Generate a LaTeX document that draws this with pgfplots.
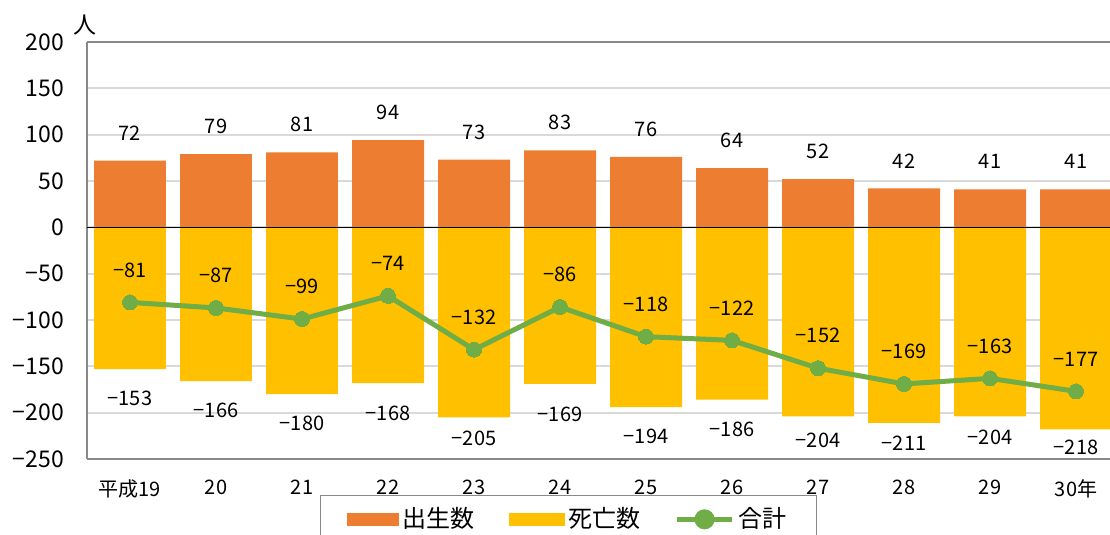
\documentclass[border=0pt]{standalone}
\usepackage{fontspec}
\setmainfont{Noto Sans CJK JP}
\usepackage{pgfplots}
\pgfplotsset{compat=1.18}
\usepackage{pgfplotstable}
\definecolor{cb}{HTML}{ED7D31}
\definecolor{cd}{HTML}{FFC000}
\definecolor{ct}{HTML}{70AD47}
\definecolor{gridc}{HTML}{D9D9D9}
\definecolor{axc}{HTML}{898989}

\pgfplotstableread{
x b d t dl tl dy
0 72 -153 -81 −153 −81 -184.2
1 79 -166 -87 −166 −87 -197.2
2 81 -180 -99 −180 −99 -211.2
3 94 -168 -74 −168 −74 -200.3
4 73 -205 -132 −205 −132 -227.4
5 83 -169 -86 −169 −86 -201.4
6 76 -194 -118 −194 −118 -225.2
7 64 -186 -122 −186 −122 -217.7
8 52 -204 -152 −204 −152 -229.6
9 42 -211 -169 −211 −169 -232.8
10 41 -204 -163 −204 −163 -226.3
11 41 -218 -177 −218 −177 -237.1
}\datatable

\begin{document}
\begin{tikzpicture}
\useasboundingbox (-43.5pt,-38pt) rectangle (511.5pt,229.5pt);
\clip (-43.5pt,-38pt) rectangle (511.5pt,229.5pt);
\begin{axis}[
  name=ax,
  at={(0,0)}, anchor=south west,
  scale only axis, width=511.5pt, height=208.5pt,
  xmin=-0.5, xmax=11.395, ymin=-250, ymax=200,
  axis x line*=box, axis y line*=left,
  axis line style={axc, line width=1pt},
  ymajorgrids, grid style={gridc, line width=0.9pt},
  major tick length=0pt,
  /pgf/number format/assume math mode=true,
  xtick={0,...,11},
  xticklabels={平成19,20,21,22,23,24,25,26,27,28,29,30年},
  ytick={-250,-200,...,200},
  yticklabels={−250,−200,−150,−100,−50,0,50,100,150,200},
  xticklabel style={font=\fontsize{10}{12}\selectfont, yshift=-7pt},
  yticklabel style={font=\fontsize{11.5}{13}\selectfont, xshift=-8pt},
  legend columns=3,
  legend style={at={(0.4707,-0.0863)}, anchor=north, draw=axc, line width=0.75pt,
    font=\fontsize{12}{14}\selectfont, inner xsep=13pt, inner ysep=4pt,
    /tikz/every even column/.append style={column sep=15pt}},
  legend cell align=left,
]
\addplot[ybar, bar width=0.837, bar shift=0pt, fill=cb, draw=none,
  legend image code/.code={\fill[cb] (0pt,-3.25pt) rectangle (26pt,3.25pt);},
  nodes near coords,
  every node near coord/.append style={anchor=south, inner sep=0pt, yshift=10pt,
    font=\fontsize{10}{12}\selectfont, text=black}]
  table[x=x, y=b] {\datatable};
\addlegendentry{出生数}
\addplot[ybar, bar width=0.837, bar shift=0pt, fill=cd, draw=none,
  legend image code/.code={\fill[cd] (0pt,-3.25pt) rectangle (28pt,3.25pt);}]
  table[x=x, y=d] {\datatable};
\addlegendentry{死亡数}
\addplot[draw=none, mark=none, forget plot, clip=false,
  point meta=explicit symbolic, nodes near coords,
  every node near coord/.append style={anchor=center, inner sep=0pt,
    font=\fontsize{10}{12}\selectfont, text=black}]
  table[x=x, y=dy, meta=dl] {\datatable};
\addplot[black, line width=0.75pt, forget plot] coordinates {(-0.5,0) (11.5,0)};
\addplot[ct, line width=2.5pt, mark=*, mark size=3.75pt,
  mark options={fill=ct, draw=ct, line width=0pt},
  legend image code/.code={\draw[ct, line width=2.5pt] (0pt,0pt) -- (27.5pt,0pt);
    \fill[ct] (13.75pt,0pt) circle (3.75pt);},
  point meta=explicit symbolic, nodes near coords,
  every node near coord/.append style={anchor=south, inner sep=0pt, yshift=12.5pt,
    font=\fontsize{10}{12}\selectfont, text=black}]
  table[x=x, y=t, meta=tl] {\datatable};
\addlegendentry{合計}
\end{axis}
\node[font=\fontsize{11.5}{13}\selectfont] at ([xshift=-1pt, yshift=8.5pt]ax.north west) {人};
\end{tikzpicture}
\end{document}
